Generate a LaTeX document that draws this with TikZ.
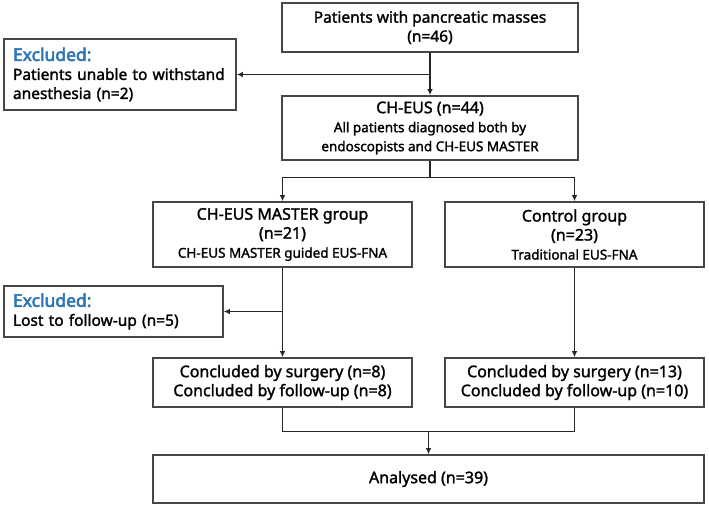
\documentclass[tikz,border=0pt]{standalone}
\usepackage{fontspec}
\setmainfont{Noto Sans}[FakeBold=1.6]
\newfontfamily\exfont{Noto Sans}[FakeBold=3]
\usetikzlibrary{arrows.meta}

\definecolor{exblue}{RGB}{46,117,182}
\definecolor{edge}{RGB}{70,70,70}

\newcommand{\bigtxt}{\fontsize{16}{20}\selectfont}
\newcommand{\smalltxt}{\fontsize{13.5}{16}\selectfont}
\newcommand{\extitle}{\exfont\fontsize{17.5}{21}\selectfont\color{exblue}}
\newcommand{\exbody}{\normalfont\fontsize{15.5}{19}\selectfont\color{black}}

\begin{document}
\begin{tikzpicture}[x=1pt,y=-1pt,
  box/.style={draw=edge,line width=1.6pt,fill=white,inner sep=0pt,align=center,
    font=\fontsize{15.5}{19}\selectfont},
  exbox/.style={box,align=left,inner xsep=9pt},
  line/.style={draw=black!85,line width=1.25pt},
  arrow/.style={line,-{Latex[length=6pt,width=5.5pt]}}]

\useasboundingbox (0,0) rectangle (709,508);

\node[box,minimum width=296pt,minimum height=49pt] (top) at (430,27.5)
  {Patients with pancreatic masses\\(n=46)};
\node[exbox,minimum width=232pt,minimum height=71pt,text width=214pt] (excl1) at (120,74.5)
  {\extitle Excluded:\\\exbody Patients unable to withstand\\anesthesia (n=2)};
\node[box,minimum width=296pt,minimum height=64pt] (cheus) at (430,128)
  {\bigtxt CH-EUS (n=44)\\\smalltxt All patients diagnosed both by\\\smalltxt endoscopists and CH-EUS MASTER};

\node[box,minimum width=259pt,minimum height=65pt] (master) at (282.5,234.5)
  {\bigtxt CH-EUS MASTER group\\\bigtxt (n=21)\\\smalltxt CH-EUS MASTER guided EUS-FNA};
\node[box,minimum width=259pt,minimum height=65pt] (control) at (574.5,234.5)
  {\bigtxt Control group\\\bigtxt (n=23)\\\smalltxt Traditional EUS-FNA};

\node[exbox,minimum width=219pt,minimum height=51pt,text width=201pt] (excl2) at (113.5,311.5)
  {\extitle Excluded:\\\exbody Lost to follow-up (n=5)};

\node[box,minimum width=259pt,minimum height=49pt] (concl1) at (282.5,382.5)
  {\bigtxt Concluded by surgery (n=8)\\\bigtxt Concluded by follow-up (n=8)};
\node[box,minimum width=259pt,minimum height=49pt] (concl2) at (574.5,382.5)
  {\bigtxt Concluded by surgery (n=13)\\\bigtxt Concluded by follow-up (n=10)};

\node[box,minimum width=551pt,minimum height=48pt] (analysed) at (428.5,479)
  {\bigtxt Analysed (n=39)};

% arrows
\draw[arrow] (top.south) -- (cheus.north);
\draw[arrow] (top.south |- excl1.east) -- (excl1.east);
\draw[arrow] (cheus.south) -- ++(0,17) -| (master.north);
\draw[arrow] (cheus.south) -- ++(0,17) -| (control.north);
\draw[arrow] (master.south) -- (concl1.north);
\draw[arrow] (master.south |- excl2.east) -- (excl2.east);
\draw[arrow] (control.south) -- (concl2.north);
\draw[line] (concl1.south) -- ++(0,24) coordinate (joinL) -| (concl2.south);
\draw[arrow] (joinL -| analysed.north) -- (analysed.north);

\end{tikzpicture}
\end{document}
